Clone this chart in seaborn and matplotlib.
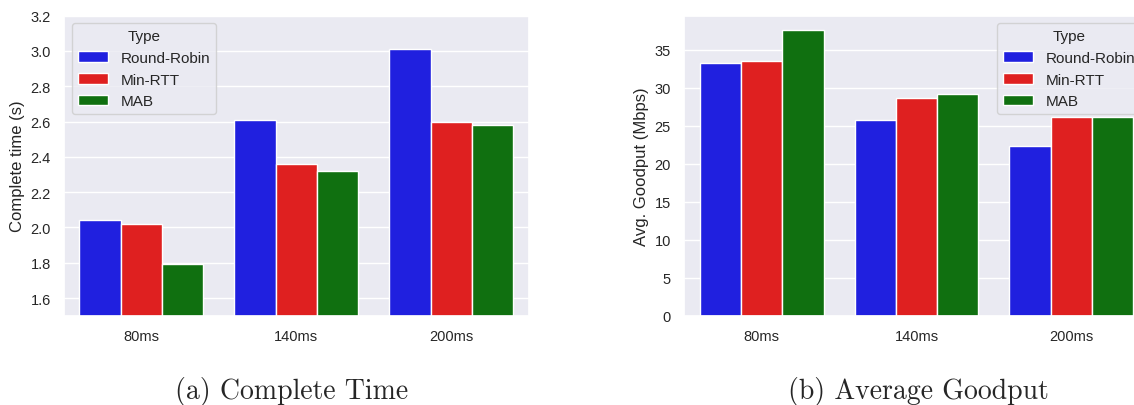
# Bar charts: complete time and average goodput per scheduler
import numpy as np
import pandas as pd
import seaborn as sns
import matplotlib.pyplot as plt

plt.switch_backend('Agg')

delays = ['80ms', '140ms', '200ms']
types = ['Round-Robin', 'Min-RTT', 'MAB']

# complete time (s), one list per scheduler, in delay order
time_rr = [2.04, 2.61, 3.01]
time_minrtt = [2.02, 2.36, 2.60]
time_mab = [1.79, 2.32, 2.58]

# average goodput (Mbps)
gp_rr = [33.25, 25.75, 22.35]
gp_minrtt = [33.45, 28.7, 26.15]
gp_mab = [37.6, 29.2, 26.15]

palette = ['blue', 'red', 'green']


def make_frame(rr, minrtt, mab):
    rows = []
    for name, vals in zip(types, [rr, minrtt, mab]):
        for d, v in zip(delays, vals):
            rows.append({'Delay': d, 'Type': name, 'Value': v})
    return pd.DataFrame(rows)


sns.set_theme(style='darkgrid')
plt.rcParams['font.family'] = ['Liberation Sans', 'DejaVu Sans']

fig = plt.figure(figsize=(11.34, 4.06), dpi=100)
# right panel runs slightly past the figure edge, as in the original
ax1 = fig.add_axes([0.0564, 0.22, 0.410, 0.739])
ax2 = fig.add_axes([0.6032, 0.22, 0.410, 0.739])

df_time = make_frame(time_rr, time_minrtt, time_mab)
sns.barplot(data=df_time, x='Delay', y='Value', hue='Type', order=delays,
            hue_order=types, palette=palette, ax=ax1)
ax1.set_ylim(1.5, 3.2)
ax1.set_xlabel('')
ax1.set_ylabel('Complete time (s)', fontsize=12)
ax1.legend(title='Type', loc='upper left', fontsize=11, title_fontsize=11)

df_gp = make_frame(gp_rr, gp_minrtt, gp_mab)
sns.barplot(data=df_gp, x='Delay', y='Value', hue='Type', order=delays,
            hue_order=types, palette=palette, ax=ax2)
ax2.set_xlabel('')
ax2.set_ylabel('Avg. Goodput (Mbps)', fontsize=12)
ax2.legend(title='Type', loc='upper right', fontsize=11, title_fontsize=11)

for ax in (ax1, ax2):
    ax.tick_params(labelsize=10.5)

fig.text(0.257, 0.0165, '(a) Complete Time', ha='center', va='baseline',
         fontsize=20, family='cmr10')
fig.text(0.810, 0.0165, '(b) Average Goodput', ha='center', va='baseline',
         fontsize=20, family='cmr10')

fig.savefig('out.png', dpi=100)
plt.close(fig)
